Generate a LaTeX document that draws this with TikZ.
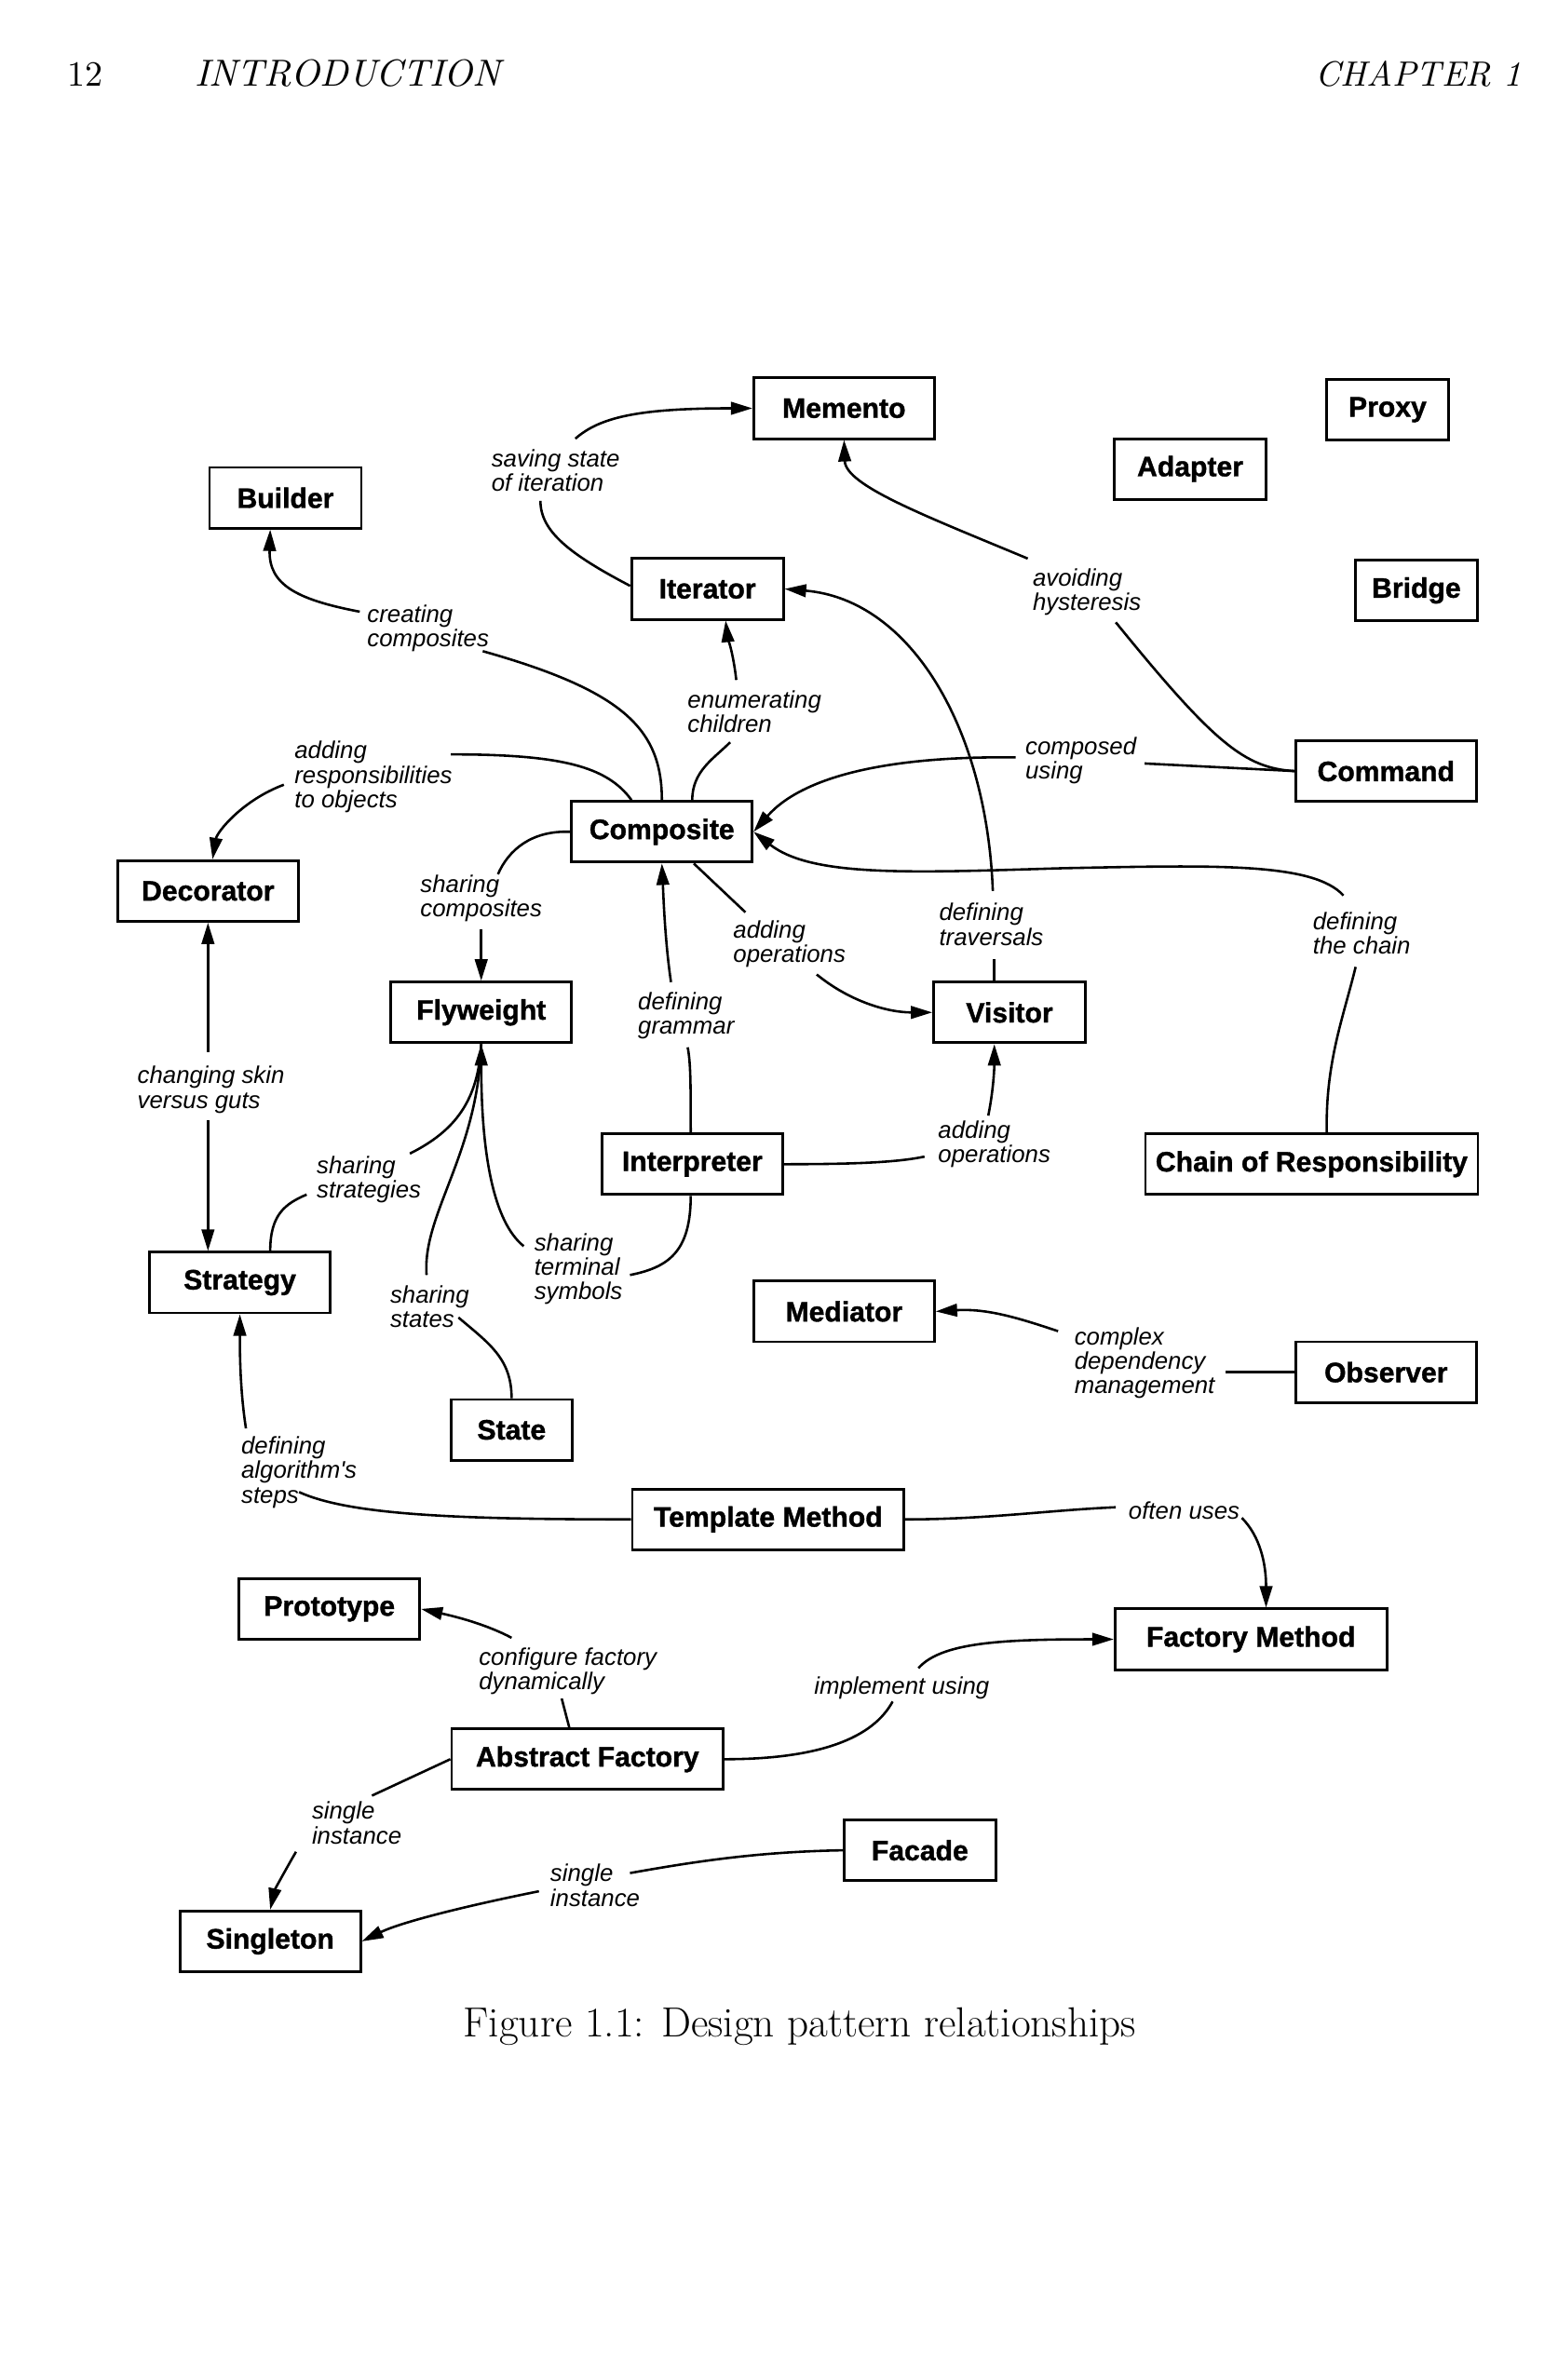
\documentclass[tikz,border=0pt]{standalone}
\usepackage{fontspec}
\newfontfamily\sansfam{Liberation Sans}[BoldFeatures={FakeBold=1.2}]
\usetikzlibrary{arrows.meta,calc}
\tikzset{
  pat/.style={draw, line width=1.05pt, minimum height=24pt, inner sep=0pt,
    font=\sansfam\bfseries\fontsize{11.1}{13}\selectfont},
  wa/.style={minimum width=48pt},
  wb/.style={minimum width=60pt},
  wc/.style={minimum width=71.4pt},
  wd/.style={minimum width=107.4pt},
  we/.style={minimum width=131.4pt},
  lbl/.style={inner sep=0pt, align=left,
    font=\sansfam\itshape\fontsize{9.5}{9.7}\selectfont},
  con/.style={line width=0.95pt},
  arr/.style={con, -{Triangle[length=8.5pt,width=5pt]}},
  hdr/.style={inner sep=0pt, anchor=base west}
}
\begin{document}
\begin{tikzpicture}[x=0.6pt,y=-0.6pt]
\useasboundingbox (0,0) rectangle (1026,1568);
\fill[white] (0,0) rectangle (1026,1568);

% header and caption
\node[hdr] (pg) at (44,57) {\resizebox{14pt}{!}{12}};
\node[hdr] (intro) at (128,57) {\resizebox{121pt}{!}{\itshape INTRODUCTION}};
\node[hdr] (chap) at (866,57) {\resizebox{81.6pt}{!}{\itshape CHAPTER 1}};
\node[hdr] (cap) at (305,1342) {\resizebox{265.8pt}{!}{\fontsize{15}{18}\selectfont Figure 1.1: Design pattern relationships}};

% pattern boxes
\node[pat,wc] (memento)   at (556,269)  {Memento};
\node[pat,wa] (proxy)     at (914,270)  {Proxy};
\node[pat,wb] (builder)   at (188,328)  {Builder};
\node[pat,wb] (adapter)   at (784,309)  {Adapter};
\node[pat,wb] (iterator)  at (466,388)  {Iterator};
\node[pat,wa] (bridge)    at (933,389)  {Bridge};
\node[pat,wc] (command)   at (913,508)  {Command};
\node[pat,wc] (composite) at (436,548)  {Composite};
\node[pat,wc] (decorator) at (137,587)  {Decorator};
\node[pat,wc] (flyweight) at (317,667)  {Flyweight};
\node[pat,wb] (visitor)   at (665,667)  {Visitor};
\node[pat,wc] (interpreter) at (456,767) {Interpreter};
\node[pat,we] (chain)     at (864,767)  {Chain of Responsibility};
\node[pat,wc] (strategy)  at (158,845)  {Strategy};
\node[pat,wc] (mediator)  at (556,864)  {Mediator};
\node[pat,wc] (observer)  at (913,904)  {Observer};
\node[pat,wa] (state)     at (337,942)  {State};
\node[pat,wd] (template)  at (506,1001) {Template Method};
\node[pat,wc] (prototype) at (217,1060) {Prototype};
\node[pat,wd] (factory)   at (824,1080) {Factory Method};
\node[pat,wd] (abstract)  at (387,1159) {Abstract Factory};
\node[pat,wb] (facade)    at (606,1219) {Facade};
\node[pat,wc] (singleton) at (178,1279) {Singleton};

% labels
\node[lbl] (lsave)   at (366,310)  {saving state\\of iteration};
\node[lbl] (lcreate) at (282,414)  {creating\\composites};
\node[lbl] (lenum)   at (497,469)  {enumerating\\children};
\node[lbl] (lresp)   at (246,512)  {adding\\responsibilities\\to objects};
\node[lbl] (lhyst)   at (716,390)  {avoiding\\hysteresis};
\node[lbl] (lcomp)   at (712,501)  {composed\\using};
\node[lbl] (lshcomp) at (317,592)  {sharing\\composites};
\node[lbl] (laddop)  at (520,622)  {adding\\operations};
\node[lbl] (ltrav)   at (653,609)  {defining\\traversals};
\node[lbl] (lchain)  at (897,615)  {defining\\the chain};
\node[lbl] (lgram)   at (452,669)  {defining\\grammar};
\node[lbl] (lskin)   at (139,718)  {changing skin\\versus guts};
\node[lbl] (laddop2) at (655,754)  {adding\\operations};
\node[lbl] (lstrat)  at (243,777)  {sharing\\strategies};
\node[lbl] (lterm)   at (381,836)  {sharing\\terminal\\symbols};
\node[lbl] (lstates) at (283,861)  {sharing\\states};
\node[lbl] (lcplx)   at (754,898)  {complex\\dependency\\management};
\node[lbl] (lalgo)   at (197,970)  {defining\\algorithm's\\steps};
\node[lbl] (loften)  at (780,995)  {often uses};
\node[lbl] (lconf)   at (374,1101) {configure factory\\dynamically};
\node[lbl] (limpl)   at (594,1112) {implement using};
\node[lbl] (lsing1)  at (235,1201) {single\\instance};
\node[lbl] (lsing2)  at (392,1242) {single\\instance};

% free ends of connectors beside the labels
\coordinate (a1) at (356,330); \coordinate (a2) at (379,289);
\coordinate (b1) at (318,429); \coordinate (b2) at (237,403);
\coordinate (c1) at (481,489); \coordinate (c2) at (485,448);
\coordinate (d1) at (297,497); \coordinate (d2) at (187,517);
\coordinate (e1) at (328,576); \coordinate (e2) at (317,612);
\coordinate (f1) at (453,690); \coordinate (f2) at (442,647);
\coordinate (g1) at (491,601); \coordinate (g2) at (538,642);
\coordinate (h1) at (655,632); \coordinate (h2) at (654,587);
\coordinate (i1) at (754,503); \coordinate (i2) at (669,499);
\coordinate (j1) at (735,410); \coordinate (j2) at (677,368);
\coordinate (k1) at (893,637); \coordinate (k2) at (885,590);
\coordinate (l1) at (609,762); \coordinate (l2) at (651,735);
\coordinate (m1) at (137,693); \coordinate (m2) at (137,738);
\coordinate (n1) at (202,787); \coordinate (n2) at (270,760);
\coordinate (o1) at (302,868); \coordinate (o2) at (281,840);
\coordinate (p1) at (415,840); \coordinate (p2) at (345,821);
\coordinate (q1) at (197,983); \coordinate (q2) at (162,941);
\coordinate (r1) at (735,993); \coordinate (r2) at (818,1000);
\coordinate (s1) at (807,904); \coordinate (s2) at (697,877);
\coordinate (t1) at (370,1119); \coordinate (t2) at (337,1079);
\coordinate (u1) at (588,1121); \coordinate (u2) at (605,1099);
\coordinate (v1) at (245,1183); \coordinate (v2) at (195,1220);
\coordinate (w1) at (415,1234); \coordinate (w2) at (355,1246);

% connectors
% Iterator -> Memento
\draw[con] ($(iterator.west)+(0,-2)$) .. controls (375,365) and (356,350) .. (a1);
\draw[arr] (a2) .. controls (395,275) and (420,269) .. (memento.west);
% Composite -> Builder
\draw[con] (composite.north) .. controls (436,480) and (410,455) .. (b1);
\draw[arr] (b2) .. controls (195,395) and (177,385) .. ($(builder.south)+(-10,0)$);
% Composite -> Iterator
\draw[con] ($(composite.north)+(20,0)$) .. controls (456,508) and (470,500) .. (c1);
\draw[arr] (c2) .. controls (483,430) and (479,418) .. ($(iterator.south)+(12,0)$);
% Composite -> Decorator
\draw[con] ($(composite.north)+(-20,0)$) .. controls (400,505) and (370,497) .. (d1);
\draw[arr] (d2) .. controls (160,527) and (143,548) .. ($(decorator.north)+(3,0)$);
% Composite -> Flyweight
\draw[con] (composite.west) .. controls (350,547) and (335,560) .. (e1);
\draw[arr] (e2) -- (flyweight.north);
% Interpreter -> Composite
\draw[con] ($(interpreter.north)+(-1,0)$) .. controls (455,715) and (455,700) .. (f1);
\draw[arr] (f2) .. controls (438,620) and (437,590) .. (composite.south);
% Composite -> Visitor
\draw[con] ($(composite.south)+(21,0)$) -- (g1);
\draw[arr] (g2) .. controls (560,660) and (585,667) .. (visitor.west);
% Visitor -> Iterator
\draw[con] ($(visitor.north)+(-10,0)$) -- (h1);
\draw[arr] (h2) .. controls (650,480) and (600,395) .. (iterator.east);
% Command -> Composite
\draw[con] (command.west) -- (i1);
\draw[arr] (i2) .. controls (590,498) and (530,510) .. (composite.east);
% Command -> Memento
\draw[con] (command.west) .. controls (820,506) and (800,490) .. (j1);
\draw[arr] (j2) .. controls (610,340) and (557,320) .. (memento.south);
% Chain of Responsibility -> Composite
\draw[con] ($(chain.north)+(10,0)$) .. controls (873,700) and (885,670) .. (k1);
\draw[arr] (k2) .. controls (865,568) and (800,570) .. (700,572)
                .. controls (600,575) and (535,578) .. (composite.east);
% Interpreter -> Visitor
\draw[con] (interpreter.east) .. controls (560,767) and (590,766) .. (l1);
\draw[arr] (l2) .. controls (655,715) and (655,700) .. ($(visitor.south)+(-10,0)$);
% Decorator <-> Strategy
\draw[arr] (m1) -- (decorator.south);
\draw[arr] (m2) -- ($(strategy.north)+(-21,0)$);
% Strategy -> Flyweight
\draw[con] ($(strategy.north)+(20,0)$) .. controls (178,800) and (188,793) .. (n1);
\draw[con] (n2) .. controls (300,745) and (315,725) .. (flyweight.south);
% State -> Flyweight
\draw[con] (state.north) .. controls (337,895) and (322,885) .. (o1);
\draw[con] (o2) .. controls (278,800) and (315,760) .. (flyweight.south);
% Interpreter -> Flyweight
\draw[con] ($(interpreter.south)+(-1,0)$) .. controls (455,825) and (440,835) .. (p1);
\draw[arr] (p2) .. controls (325,805) and (317,760) .. (flyweight.south);
% Template Method -> Strategy
\draw[con] (template.west) .. controls (300,1001) and (230,998) .. (q1);
\draw[arr] (q2) .. controls (158,915) and (158,890) .. (strategy.south);
% Template Method -> Factory Method
\draw[con] (template.east) .. controls (650,1001) and (690,995) .. (r1);
\draw[arr] (r2) .. controls (830,1012) and (834,1030) .. ($(factory.north)+(10,0)$);
% Observer -> Mediator
\draw[con] (observer.west) -- (s1);
\draw[arr] (s2) .. controls (670,868) and (650,862) .. (mediator.east);
% Abstract Factory -> Prototype
\draw[con] ($(abstract.north)+(-12,0)$) -- (t1);
\draw[arr] (t2) .. controls (320,1070) and (300,1065) .. (prototype.east);
% Abstract Factory -> Factory Method
\draw[con] (abstract.east) .. controls (540,1159) and (575,1145) .. (u1);
\draw[arr] (u2) .. controls (620,1082) and (660,1080) .. (factory.west);
% Abstract Factory -> Singleton
\draw[con] (abstract.west) -- (v1);
\draw[arr] (v2) .. controls (188,1232) and (181,1245) .. (singleton.north);
% Facade -> Singleton
\draw[con] (facade.west) .. controls (500,1220) and (460,1226) .. (w1);
\draw[arr] (w2) .. controls (310,1255) and (265,1266) .. (singleton.east);
\end{tikzpicture}
\end{document}
